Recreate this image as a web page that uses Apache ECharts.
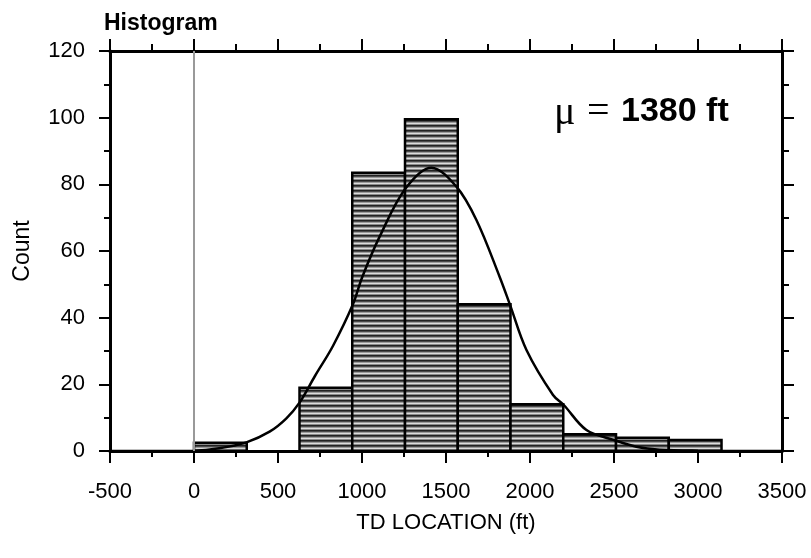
<!DOCTYPE html>
<html>
<head>
<meta charset="utf-8">
<script src="https://cdn.jsdelivr.net/npm/echarts@6/dist/echarts.min.js"></script>
<style>html,body{margin:0;padding:0;background:#fff;}#c{width:811px;height:558px;}</style>
</head>
<body>
<div id="c"></div>
<script>
// ---- data ----
const binStarts = [0, 314, 628, 942, 1256, 1570, 1884, 2198, 2512, 2826];
const binEnds   = [314, 628, 942, 1256, 1570, 1884, 2198, 2512, 2826, 3140];
const counts    = [2.5, 0, 19, 83.5, 99.5, 44, 14, 5, 4, 3.3];
const curveX = [-500, 0, 150, 312, 450, 550, 628, 720, 827, 946, 1000, 1105, 1260, 1413, 1562, 1681, 1819, 1880, 1979, 2137, 2201, 2336, 2500, 2633, 2772, 3000, 3500];
const curveY = [0, 0.1, 0.8, 2.6, 5.8, 9.8, 14.5, 22.5, 31.5, 44, 52, 64.3, 78.8, 85, 79.3, 69.3, 52.3, 44, 30.3, 16.8, 13.8, 6.3, 3.3, 1.3, 0.4, 0.1, 0];
const refLineX = 0;
const titleText = 'Histogram';
const xName = 'TD LOCATION (ft)';
const yName = 'Count';
const meanLabel = '1380 ft';

// ---- hatch pattern (horizontal stripes) ----
const pc = document.createElement('canvas');
pc.width = 4; pc.height = 5;
const pctx = pc.getContext('2d');
const rows = ['#222222', '#4a4a4a', '#9a9a9a', '#dcdcdc', '#8a8a8a'];
rows.forEach((c, i) => { pctx.fillStyle = c; pctx.fillRect(0, i, 4, 1); });
const pattern = { image: pc, repeat: 'repeat' };

const FONT = 'Liberation Sans, Arial, Helvetica, sans-serif';
const binData = binStarts.map((s, i) => [s, binEnds[i], counts[i]]);
const curveData = curveX.map((x, i) => [x, curveY[i]]);

const chart = echarts.init(document.getElementById('c'), null, { renderer: 'canvas' });
const axisLine = { show: true, onZero: false, lineStyle: { color: '#000', width: 3 } };
const xCommon = { type: 'value', min: -500, max: 3500, interval: 500, splitLine: { show: false } };
const yCommon = { type: 'value', min: 0, max: 120, interval: 20, splitLine: { show: false } };

chart.setOption({
  animation: false,
  backgroundColor: '#fff',
  title: {
    text: titleText, left: 99, top: 7,
    textStyle: { fontFamily: FONT, fontSize: 23, fontWeight: 'bold', color: '#000' }
  },
  grid: { left: 110, right: 29, top: 51, bottom: 107, containLabel: false },
  xAxis: [
    Object.assign({}, xCommon, {
      position: 'bottom',
      axisLine: axisLine,
      axisTick: { show: true, length: 12, lineStyle: { color: '#000', width: 2 } },
      minorTick: { show: true, splitNumber: 2, length: 6, lineStyle: { color: '#000', width: 2 } },
      axisLabel: { show: true, margin: 30, fontFamily: FONT, fontSize: 22, color: '#000', formatter: v => String(v) },
      name: xName, nameLocation: 'middle', nameGap: 61,
      nameTextStyle: { fontFamily: FONT, fontSize: 22, color: '#000' }
    }),
    Object.assign({}, xCommon, {
      position: 'top',
      axisLine: axisLine,
      axisTick: { show: true, length: 12, lineStyle: { color: '#000', width: 2 } },
      minorTick: { show: true, splitNumber: 2, length: 7, lineStyle: { color: '#000', width: 2 } },
      axisLabel: { show: false }
    })
  ],
  yAxis: [
    Object.assign({}, yCommon, {
      position: 'left',
      axisLine: axisLine,
      axisTick: { show: true, length: 11, lineStyle: { color: '#000', width: 2 } },
      minorTick: { show: true, splitNumber: 2, length: 6, lineStyle: { color: '#000', width: 2 } },
      axisLabel: { show: true, margin: 25, fontFamily: FONT, fontSize: 22, color: '#000' },
      name: yName, nameLocation: 'middle', nameGap: 76, nameRotate: 90,
      nameTextStyle: { fontFamily: FONT, fontSize: 23, color: '#000' }
    }),
    Object.assign({}, yCommon, {
      position: 'right',
      axisLine: axisLine,
      axisTick: { show: true, length: 12, lineStyle: { color: '#000', width: 2 } },
      minorTick: { show: true, splitNumber: 2, length: 7, lineStyle: { color: '#000', width: 2 } },
      axisLabel: { show: false }
    })
  ],
  series: [
    {
      type: 'custom',
      xAxisIndex: 0, yAxisIndex: 0,
      data: binData,
      z: 2,
      renderItem: function (params, api) {
        const p0 = api.coord([api.value(0), api.value(2)]);
        const p1 = api.coord([api.value(1), 0]);
        if (api.value(2) <= 0) return null;
        return {
          type: 'rect',
          shape: { x: p0[0], y: p0[1], width: p1[0] - p0[0], height: p1[1] - p0[1] },
          style: { fill: pattern, stroke: '#000', lineWidth: 2.5 }
        };
      },
      markLine: {
        silent: true, symbol: 'none', label: { show: false },
        lineStyle: { color: '#999', width: 2, type: 'solid' },
        data: [{ xAxis: refLineX }]
      }
    },
    {
      type: 'line',
      xAxisIndex: 0, yAxisIndex: 0,
      data: curveData,
      smooth: 0.35,
      showSymbol: false,
      z: 3,
      lineStyle: { color: '#000', width: 2.5 }
    }
  ],
  graphic: [
    { type: 'text', left: 554, top: 93, style: { text: 'μ', font: '40px "Liberation Serif", "Times New Roman", serif', fill: '#000' } },
    { type: 'text', left: 587, top: 92, style: { text: '=', font: '40px "Liberation Serif", "Times New Roman", serif', fill: '#000' } },
    { type: 'text', left: 621, top: 95, style: { text: meanLabel, font: 'bold 34px "Liberation Sans", Arial, sans-serif', fill: '#000' } }
  ]
});
</script>
</body>
</html>
